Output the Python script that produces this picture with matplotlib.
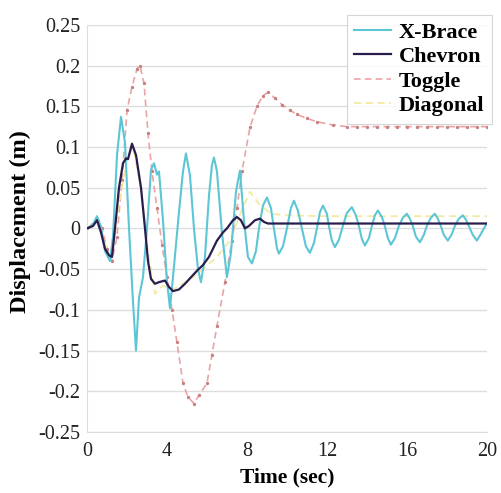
#!/usr/bin/env python3
"""Displacement time histories for four brace configurations."""

import matplotlib

matplotlib.use("Agg")

import matplotlib.pyplot as plt

# X-Brace response (t [s], displacement [m])
xbrace_t = [
    0.0, 0.3, 0.5, 0.7, 0.9, 1.15, 1.3, 1.5, 1.7, 1.9, 2.1, 2.3, 2.45, 2.6,
    2.8, 3.0, 3.2, 3.35, 3.5, 3.6, 3.8, 4.0, 4.15, 4.3, 4.6, 4.8, 4.95, 5.15,
    5.35, 5.55, 5.7, 5.9, 6.1, 6.25, 6.35, 6.5, 6.75, 7.0, 7.2, 7.45, 7.65,
    7.85, 8.05, 8.25, 8.45, 8.6, 8.8, 9.0, 9.2, 9.35, 9.5, 9.6, 9.8, 10.0,
    10.2, 10.35, 10.55, 10.75, 10.95, 11.15, 11.35, 11.5, 11.65, 11.8, 12.0,
    12.1, 12.25, 12.4, 12.6, 12.8, 13.0, 13.25, 13.45, 13.6, 13.75, 13.9,
    14.1, 14.25, 14.4, 14.55, 14.75, 14.9, 15.05, 15.2, 15.4, 15.6, 15.8,
    16.0, 16.15, 16.3, 16.45, 16.65, 16.85, 17.0, 17.2, 17.4, 17.55, 17.7,
    17.85, 18.05, 18.25, 18.4, 18.6, 18.8, 18.95, 19.1, 19.3, 19.5, 19.7,
    19.9, 20.0,
]
xbrace_d = [
    0.0, 0.005, 0.015, 0.002, -0.028, -0.04, -0.01, 0.09, 0.137, 0.105, 0.0,
    -0.09, -0.15, -0.085, -0.06, 0.0, 0.072, 0.08, 0.066, 0.07, 0.01, -0.065,
    -0.098, -0.06, 0.02, 0.07, 0.092, 0.065, 0.0, -0.05, -0.066, -0.035,
    0.04, 0.078, 0.087, 0.07, -0.005, -0.06, -0.03, 0.045, 0.071, 0.01,
    -0.035, -0.043, -0.028, 0.0, 0.028, 0.038, 0.025, 0.0, -0.024, -0.031,
    -0.022, 0.0, 0.025, 0.034, 0.022, 0.0, -0.022, -0.03, -0.018, 0.0, 0.02,
    0.028, 0.018, 0.003, -0.015, -0.023, -0.014, 0.003, 0.019, 0.026, 0.016,
    0.003, -0.013, -0.021, -0.012, 0.003, 0.016, 0.022, 0.014, 0.003, -0.012,
    -0.02, -0.012, 0.003, 0.013, 0.018, 0.012, 0.003, -0.01, -0.017, -0.008,
    0.003, 0.013, 0.018, 0.012, 0.003, -0.008, -0.015, -0.007, 0.003, 0.012,
    0.016, 0.011, 0.003, -0.008, -0.015, -0.007, 0.002, 0.006,
]

# Chevron response
chevron_t = [
    0.0, 0.3, 0.5, 0.7, 0.9, 1.1, 1.25, 1.4, 1.6, 1.8, 1.95, 2.05, 2.25,
    2.45, 2.7, 2.9, 3.05, 3.2, 3.4, 3.6, 3.9, 4.1, 4.3, 4.6, 4.9, 5.2, 5.5,
    5.8, 6.1, 6.3, 6.5, 6.8, 7.0, 7.3, 7.5, 7.7, 7.9, 8.1, 8.4, 8.65, 8.85,
    9.05, 12.0, 16.0, 20.0,
]
chevron_d = [
    0.0, 0.003, 0.01, -0.005, -0.025, -0.033, -0.035, 0.0, 0.05, 0.08,
    0.086, 0.085, 0.104, 0.09, 0.05, 0.0, -0.04, -0.062, -0.068, -0.066,
    -0.064, -0.072, -0.077, -0.075, -0.068, -0.06, -0.052, -0.045, -0.035,
    -0.025, -0.015, -0.005, 0.0, 0.01, 0.014, 0.01, 0.0, 0.003, 0.01, 0.012,
    0.008, 0.006, 0.006, 0.006, 0.006,
]

# Toggle response
toggle_t = [
    0.0, 0.25, 0.5, 0.75, 1.0, 1.25, 1.5, 1.75, 2.0, 2.25, 2.5, 2.65, 2.85,
    3.05, 3.25, 3.5, 3.75, 4.0, 4.25, 4.5, 4.8, 5.05, 5.35, 5.6, 6.0, 6.25,
    6.5, 6.9, 7.25, 7.5, 7.75, 8.15, 8.5, 8.8, 9.05, 9.4, 9.75, 10.15, 10.5,
    11.0, 11.5, 12.3, 13.0, 13.5, 14.0, 14.5, 15.0, 15.5, 16.0, 16.5, 17.0,
    17.5, 18.0, 18.5, 19.0, 19.5, 20.0,
]
toggle_d = [
    0.0, 0.005, 0.012, 0.0, -0.025, -0.04, -0.01, 0.06, 0.145, 0.174, 0.196,
    0.2, 0.178, 0.117, 0.07, 0.025, -0.02, -0.06, -0.1, -0.14, -0.19,
    -0.207, -0.215, -0.205, -0.19, -0.155, -0.12, -0.066, -0.015, 0.025,
    0.07, 0.124, 0.15, 0.163, 0.167, 0.16, 0.152, 0.145, 0.14, 0.135, 0.131,
    0.127, 0.125, 0.125, 0.125, 0.125, 0.125, 0.125, 0.125, 0.125, 0.125,
    0.125, 0.125, 0.125, 0.125, 0.125, 0.125,
]

# Diagonal response (mostly hidden beneath the other traces)
diagonal_t = [
    0.0, 0.5, 1.2, 1.6, 2.0, 2.3, 2.7, 3.0, 3.4, 3.8, 4.3, 5.0, 5.8, 6.5,
    7.15, 7.7, 8.15, 8.6, 9.2, 10.0, 12.0, 14.0, 16.0, 18.0, 20.0,
]
diagonal_d = [
    0.0, 0.01, -0.04, 0.03, 0.085, 0.1, 0.05, -0.02, -0.08, -0.07, -0.075,
    -0.065, -0.05, -0.035, -0.015, 0.02, 0.045, 0.03, 0.018, 0.016, 0.015,
    0.015, 0.015, 0.015, 0.015,
]

x_ticks = [0, 4, 8, 12, 16, 20]
y_ticks = [-0.25, -0.2, -0.15, -0.1, -0.05, 0, 0.05, 0.1, 0.15, 0.2, 0.25]
y_tick_labels = ["-0.25", "-0.2", "-0.15", "-0.1", "-0.05", "0",
                 "0.05", "0.1", "0.15", "0.2", "0.25"]

plt.rcParams["font.family"] = "serif"
plt.rcParams["font.serif"] = ["Liberation Serif", "DejaVu Serif"]

fig = plt.figure(figsize=(5.01, 4.93), dpi=100)
ax = fig.add_axes([0.1737, 0.1237, 0.798, 0.826])

ax.plot(toggle_t, toggle_d, color="#eaa4a4", lw=1.2, ls=(0, (4, 2.5)),
        marker="o", ms=2.4, mfc="#c98080", mec="none", label="Toggle", zorder=2)
ax.plot(diagonal_t, diagonal_d, color="#f4e9a0", lw=1.3, ls=(0, (4, 2.5)),
        label="Diagonal", zorder=3)
ax.plot(xbrace_t, xbrace_d, color="#5cc6d6", lw=1.5, label="X-Brace", zorder=4)
ax.plot(chevron_t, chevron_d, color="#2a1d4e", lw=1.6, label="Chevron", zorder=5)

ax.set_xlim(0, 20)
ax.set_ylim(-0.25, 0.25)
ax.set_xticks(x_ticks)
ax.set_yticks(y_ticks)
ax.set_yticklabels(y_tick_labels)
ax.tick_params(axis="both", labelsize=14.5, length=0, colors="#222222")
ax.tick_params(axis="y", pad=5)
ax.tick_params(axis="x", pad=7)
ax.grid(axis="y", color="#dddddd", lw=1.0)
for side in ("top", "right"):
    ax.spines[side].set_visible(False)
for side in ("left", "bottom"):
    ax.spines[side].set_color("#dddddd")

ax.set_xlabel("Time (sec)", fontsize=15.5, fontweight="bold", labelpad=5)
ax.set_ylabel("Displacement (m)", fontsize=17.5, fontweight="bold")
ax.yaxis.set_label_coords(-0.14, 0.516)

handles, labels = ax.get_legend_handles_labels()
order = [labels.index(name) for name in ("X-Brace", "Chevron", "Toggle", "Diagonal")]
leg = ax.legend(
    [handles[i] for i in order],
    [labels[i] for i in order],
    loc="upper right",
    bbox_to_anchor=(1.0125, 1.025),
    borderaxespad=0,
    prop={"size": 16, "weight": "bold"},
    frameon=True,
    fancybox=False,
    edgecolor="#cccccc",
    handlelength=1.65,
    handletextpad=0.36,
    labelspacing=0.18,
    borderpad=0.33,
)
leg.get_frame().set_linewidth(0.8)
for line in leg.get_lines():
    line.set_marker("")

fig.savefig("out.png", dpi=100, facecolor="white")
